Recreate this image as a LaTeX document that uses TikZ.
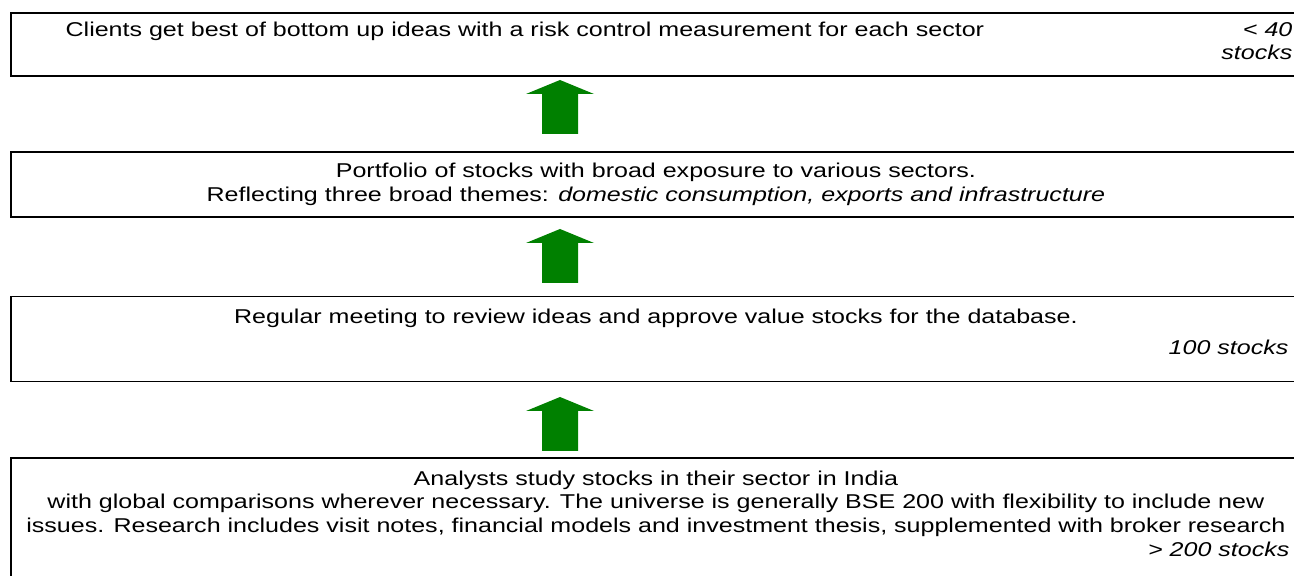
\documentclass[tikz,border=0pt]{standalone}
\usepackage{fontspec}
\setmainfont{Liberation Sans}[FakeStretch=1.252]
\usetikzlibrary{positioning}
\definecolor{arrowgreen}{RGB}{0,128,0}

\begin{document}
\begin{tikzpicture}[x=0.5pt, y=-0.5pt,
    stagebox/.style={draw, rectangle, line width=0.9pt, minimum width=645pt, inner sep=0pt},
    txt/.style={align=center, inner sep=0pt, font=\fontsize{10}{11.75}\selectfont},
    count/.style={align=right, inner sep=0pt, font=\fontsize{10}{11.75}\selectfont\itshape}]
  \clip (0,0) rectangle (1294,576);

  \node[stagebox, minimum height=31.5pt, anchor=north west] (clients) at (10,12) {};
  \node[stagebox, minimum height=32.5pt, below=37pt of clients] (portfolio) {};
  \node[stagebox, minimum height=42.5pt, below=39pt of portfolio] (meeting) {};
  \node[stagebox, minimum height=71pt, below=37.5pt of meeting] (analysts) {};

  \node[txt, below=5pt of clients.north, xshift=-65.5pt] (clientstxt) {Clients get best of bottom up ideas with a risk control measurement for each sector};
  \node[count, below left=5pt and 4.5pt of clients.north east] (clientsnum) {< 40\\stocks};

  \node[txt, below=6pt of portfolio.north] (portfoliotxt) {Portfolio of stocks with broad exposure to various sectors.\\Reflecting three broad themes: \textit{domestic consumption, exports and infrastructure}};

  \node[txt, below=6.5pt of meeting.north] (meetingtxt) {Regular meeting to review ideas and approve value stocks for the database.};
  \node[count, below left=22pt and 6.5pt of meeting.north east] (meetingnum) {100 stocks};

  \node[txt, below=6.5pt of analysts.north] (analyststxt) {Analysts study stocks in their sector in India\\with global comparisons wherever necessary. The universe is generally BSE 200 with flexibility to include new\\issues. Research includes visit notes, financial models and investment thesis, supplemented with broker research};
  \node[count, below left=42pt and 6pt of analysts.north east] (analystsnum) {> 200 stocks};

  % block arrows
  \foreach \tip in {80,229,397}
    \fill[arrowgreen] (560,\tip) -- ++(34,14) -- ++(-16,0) -- ++(0,40) -- ++(-36,0) -- ++(0,-40) -- ++(-16,0) -- cycle;
\end{tikzpicture}
\end{document}
